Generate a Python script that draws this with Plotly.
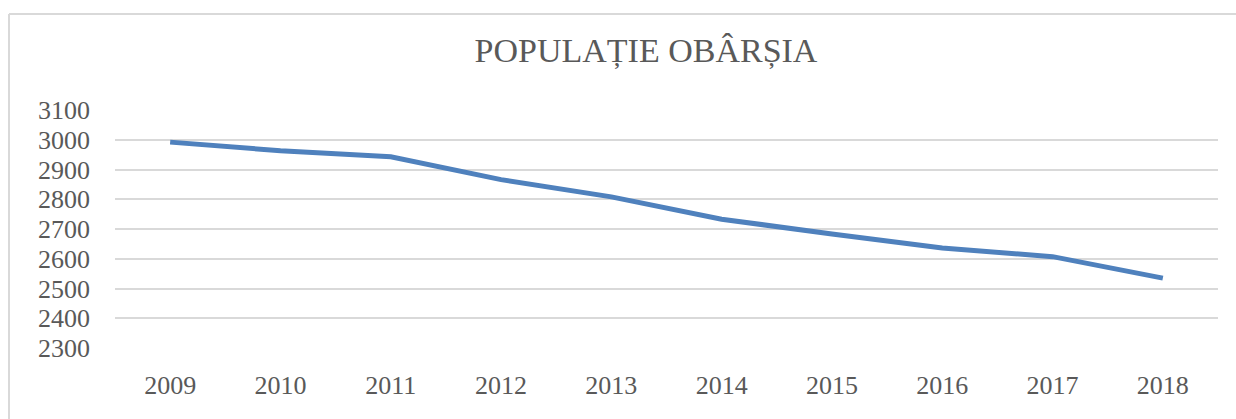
import plotly.graph_objects as go

years = [2009, 2010, 2011, 2012, 2013, 2014, 2015, 2016, 2017, 2018]
population = [2992, 2963, 2943, 2866, 2808, 2733, 2683, 2636, 2607, 2535]
y_ticks = [2300, 2400, 2500, 2600, 2700, 2800, 2900, 3000, 3100]
title_text = "POPULAȚIE OBÂRȘIA"

W, H = 1236, 419
L, R, T, B = 115, 18, 110, 71
pw = W - L - R
ph = H - T - B

fig = go.Figure()
fig.add_trace(go.Scatter(
    x=years, y=population, mode="lines",
    line=dict(color="#4F81BD", width=5),
    hoverinfo="x+y",
))

tick_font = dict(family="Liberation Serif, Times New Roman, serif", size=26, color="#595959")

# chart-area border (only top and left edges are visible in the reference)
bx0 = (9 - L) / pw
bx1 = (W + 20 - L) / pw
by0 = -(H + 20 - (T + ph)) / ph
by1 = (T + ph - 14) / ph
border = dict(color="#D9D9D9", width=2)

fig.update_layout(
    width=W, height=H,
    margin=dict(l=L, r=R, t=T, b=B),
    paper_bgcolor="white", plot_bgcolor="white",
    showlegend=False,
    title=dict(
        text=title_text,
        x=646 / W, xref="container", xanchor="center",
        y=1 - 50 / H, yref="container", yanchor="middle",
        font=dict(family="Liberation Serif, Times New Roman, serif", size=34, color="#595959"),
    ),
    xaxis=dict(
        range=[years[0] - 0.5, years[-1] + 0.5],
        tickmode="array", tickvals=years, ticktext=[str(v) for v in years],
        showgrid=False, zeroline=False,
        showline=False, ticks="",
        tickfont=tick_font,
        ticklabelstandoff=19,
    ),
    yaxis=dict(
        range=[2300, 3100],
        tickmode="array", tickvals=y_ticks, ticktext=[str(v) for v in y_ticks],
        showgrid=True, gridcolor="#D9D9D9", gridwidth=1.5,
        zeroline=False, showline=False, ticks="",
        tickfont=tick_font,
        ticklabelstandoff=24,
    ),
    shapes=[
        dict(type="line", xref="paper", yref="paper",
             x0=bx0, x1=bx1, y0=by1, y1=by1, line=border, layer="below"),
        dict(type="line", xref="paper", yref="paper",
             x0=bx0, x1=bx0, y0=by0, y1=by1, line=border, layer="below"),
    ],
)

fig.write_html(
    "out.html",
    config={"displayModeBar": False},
    post_script=(
        "document.body.style.margin='0px';"
        "document.body.style.overflow='hidden';"
        "document.documentElement.style.overflow='hidden';"
    ),
)
